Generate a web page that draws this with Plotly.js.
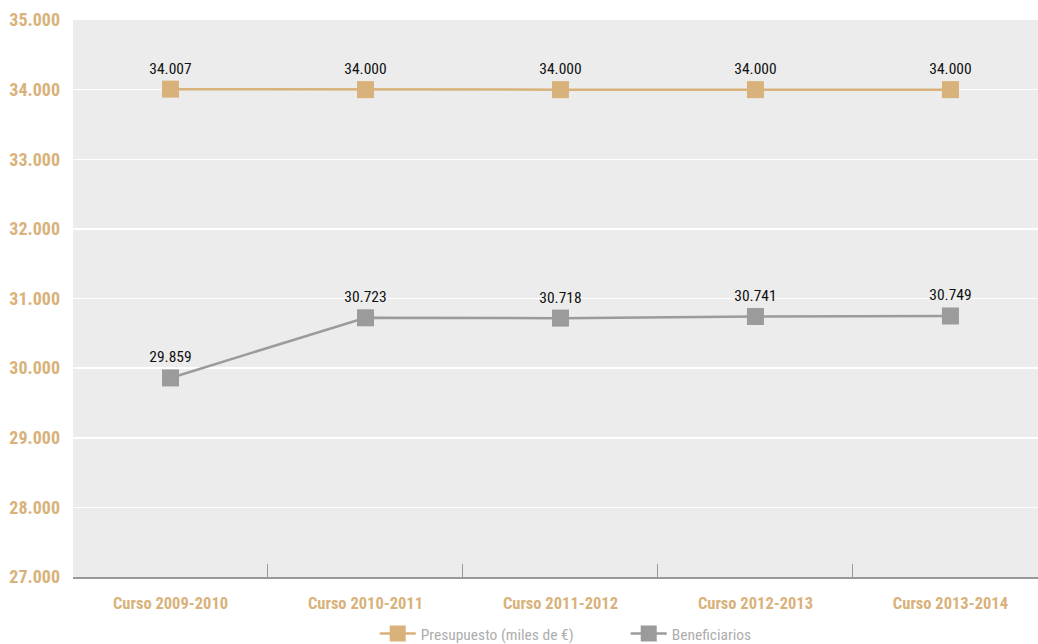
<!DOCTYPE html>
<html>
<head>
<meta charset="utf-8">
<script src="https://cdn.plot.ly/plotly-3.0.1.min.js"></script>
<style>html,body{margin:0;padding:0;background:#fff;}</style>
</head>
<body>
<div id="chart" style="width:1038px;height:644px;"></div>
<script>
const categories = ["Curso 2009-2010", "Curso 2010-2011", "Curso 2011-2012", "Curso 2012-2013", "Curso 2013-2014"];
const presupuesto = [34007, 34000, 34000, 34000, 34000];
const beneficiarios = [29859, 30723, 30718, 30741, 30749];
const yTicks = [27000, 28000, 29000, 30000, 31000, 32000, 33000, 34000, 35000];

function fmt(v) {
  return String(v).replace(/\B(?=(\d{3})+(?!\d))/g, ".");
}

const fontNarrow = '"Liberation Sans Narrow", "Arial Narrow", "Roboto Condensed", "Liberation Sans", sans-serif';
const tan = '#d8b27a';
const grey = '#9b9b9b';

const traces = [
  {
    x: categories, y: presupuesto, name: 'Presupuesto (miles de €)',
    type: 'scatter', mode: 'lines+markers+text',
    line: {color: tan, width: 2.5},
    marker: {symbol: 'square', size: 17, color: tan},
    text: presupuesto.map(fmt), textposition: 'top center',
    textfont: {family: fontNarrow, size: 15.5, color: '#111'},
    cliponaxis: false
  },
  {
    x: categories, y: beneficiarios, name: 'Beneficiarios',
    type: 'scatter', mode: 'lines+markers+text',
    line: {color: grey, width: 2.5},
    marker: {symbol: 'square', size: 17, color: grey},
    text: beneficiarios.map(fmt), textposition: 'top center',
    textfont: {family: fontNarrow, size: 15.5, color: '#111'},
    cliponaxis: false
  }
];

const layout = {
  width: 1038, height: 644,
  margin: {l: 73, r: 0, t: 20, b: 67},
  paper_bgcolor: '#ffffff',
  plot_bgcolor: '#ececec',
  separators: ',.',
  showlegend: true,
  xaxis: {
    type: 'category',
    range: [-0.5, 4.449],
    showgrid: false,
    zeroline: false,
    showline: true, linecolor: '#999999', linewidth: 1.5,
    ticks: 'inside', tickson: 'boundaries', ticklen: 13, tickcolor: '#999999', tickwidth: 1,
    tickfont: {family: fontNarrow, size: 16.5, color: tan, weight: 'bold'},
    ticklabelstandoff: 11,
    fixedrange: true
  },
  yaxis: {
    range: [27000, 35000],
    tickvals: yTicks,
    ticktext: yTicks.map(fmt),
    showgrid: true, gridcolor: '#ffffff', gridwidth: 1.5,
    zeroline: false, showline: false,
    ticks: '',
    tickfont: {family: fontNarrow, size: 18, color: tan, weight: 'bold'},
    ticklabelstandoff: 12,
    fixedrange: true
  },
  legend: {
    orientation: 'h',
    xref: 'container', x: 0.361, xanchor: 'left',
    yref: 'container', y: 0.0155, yanchor: 'middle',
    font: {family: fontNarrow, size: 15.5, color: '#adadad'},
    itemwidth: 36,
    entrywidth: 200, entrywidthmode: 'pixels',
    traceorder: 'normal'
  }
};

Plotly.newPlot('chart', traces, layout, {displayModeBar: false, staticPlot: true});
</script>
</body>
</html>
